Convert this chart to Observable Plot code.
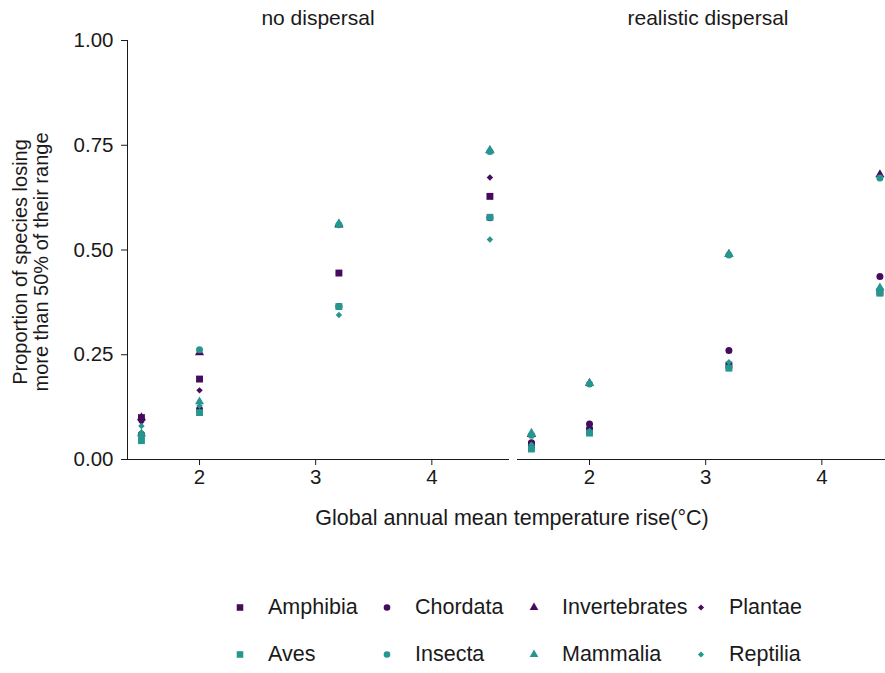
<!DOCTYPE html>
<html>
<head>
<meta charset="utf-8">
<script src="https://cdn.jsdelivr.net/npm/d3@7"></script>
<script src="https://cdn.jsdelivr.net/npm/@observablehq/plot@0.6"></script>
<style>
  html, body { margin: 0; padding: 0; background: #fff; overflow: hidden; }
  #chart { position: relative; width: 885px; height: 673px; overflow: hidden;
           font-family: "Liberation Sans", Arial, sans-serif; color: #1a1a1a; }
  .panel { position: absolute; top: 0; }
  .panel text { font-size: 20.5px !important; fill: #1a1a1a; }
  .panel g[aria-label="text"] text { font-size: 21px !important; }
  .ylab { position: absolute; left: 31px; top: 262px; width: 0; height: 0; }
  .ylab div { position: absolute; transform: translate(-50%, -50%) rotate(-90deg);
              white-space: nowrap; font-size: 20px; line-height: 21px; text-align: center; }
  .xlab { position: absolute; top: 505px; left: 0; width: 1024px; text-align: center;
          font-size: 21.5px; line-height: 26px; }
  .legend { position: absolute; font-size: 21.5px; line-height: 25px; }
  .item { position: absolute; display: flex; align-items: center; white-space: nowrap; }
  .item svg { margin-right: 21px; }
</style>
</head>
<body>
<div id="chart"></div>
<script>
// Warming levels (°C) and the taxa shown
const temps = [1.5, 2, 3.2, 4.5];
const taxa = ["Amphibia", "Aves", "Chordata", "Insecta", "Invertebrates", "Mammalia", "Plantae", "Reptilia"];
const scenarios = ["no dispersal", "realistic dispersal"];

// Proportion of species losing >50% of their range, no dispersal
const noDispAmphibia      = [0.100, 0.192, 0.445, 0.628];
const noDispAves          = [0.045, 0.112, 0.365, 0.578];
const noDispChordata      = [0.060, 0.120, 0.365, 0.577];
const noDispInsecta       = [0.055, 0.262, 0.560, 0.735];
const noDispInvertebrates = [0.100, 0.255, 0.560, 0.737];
const noDispMammalia      = [0.062, 0.138, 0.563, 0.738];
const noDispPlantae       = [0.090, 0.165, 0.445, 0.673];
const noDispReptilia      = [0.080, 0.128, 0.345, 0.525];

// Same, realistic dispersal
const realAmphibia      = [0.035, 0.070, 0.225, 0.400];
const realAves          = [0.025, 0.063, 0.218, 0.397];
const realChordata      = [0.040, 0.085, 0.260, 0.437];
const realInsecta       = [0.058, 0.180, 0.488, 0.672];
const realInvertebrates = [0.060, 0.182, 0.490, 0.680];
const realMammalia      = [0.063, 0.182, 0.490, 0.410];
const realPlantae       = [0.030, 0.068, 0.228, 0.402];
const realReptilia      = [0.035, 0.068, 0.232, 0.405];

const xTicks = [2, 3, 4];
const yTicks = [0, 0.25, 0.5, 0.75, 1];

const series = {
  "no dispersal": {
    Amphibia: noDispAmphibia, Aves: noDispAves, Chordata: noDispChordata, Insecta: noDispInsecta,
    Invertebrates: noDispInvertebrates, Mammalia: noDispMammalia, Plantae: noDispPlantae, Reptilia: noDispReptilia
  },
  "realistic dispersal": {
    Amphibia: realAmphibia, Aves: realAves, Chordata: realChordata, Insecta: realInsecta,
    Invertebrates: realInvertebrates, Mammalia: realMammalia, Plantae: realPlantae, Reptilia: realReptilia
  }
};

// Styling per taxon
const purple = "#470b5d", teal = "#26968f";
const colorOf = {Amphibia: purple, Chordata: purple, Invertebrates: purple, Plantae: purple,
                 Aves: teal, Insecta: teal, Mammalia: teal, Reptilia: teal};
const shapeOf = {Amphibia: "square", Aves: "square", Chordata: "circle", Insecta: "circle",
                 Invertebrates: "triangle", Mammalia: "triangle", Plantae: "diamond2", Reptilia: "diamond2"};
const sizeOf = {square: 3.9, circle: 3.5, triangle: 3.4, diamond2: 2.9};
const drawOrder = ["Plantae", "Chordata", "Amphibia", "Invertebrates", "Reptilia", "Aves", "Insecta", "Mammalia"];

function rows(scen) {
  const out = [];
  for (const t of drawOrder) series[scen][t].forEach((v, i) => out.push({taxon: t, temp: temps[i], value: v}));
  return out;
}

const xDomain = [1.38, 4.66];
const font = {fontSize: "20px", fontFamily: "'Liberation Sans', Arial, sans-serif", color: "#1a1a1a", background: "transparent", overflow: "visible"};

function panel(scen, first) {
  return Plot.plot({
    width: first ? 508 : 390,
    height: 490,
    marginLeft: first ? 127 : 9,
    marginRight: 0,
    marginTop: 40,
    marginBottom: 31,
    style: font,
    x: {domain: xDomain, ticks: xTicks, tickFormat: d3.format("d"), tickSize: 6, tickPadding: 4, line: true, label: null},
    y: first
      ? {domain: [0, 1], ticks: yTicks, tickFormat: d3.format(".2f"), tickSize: 6, tickPadding: 8, line: true, label: null}
      : {domain: [0, 1], axis: null},
    color: {domain: taxa, range: taxa.map(t => colorOf[t])},
    symbol: {domain: taxa, range: taxa.map(t => shapeOf[t])},
    r: {type: "identity"},
    marks: [
      Plot.dot(rows(scen), {
        x: "temp", y: "value", fill: "taxon", symbol: "taxon",
        r: d => sizeOf[shapeOf[d.taxon]], stroke: "none", sort: null
      }),
      Plot.text([scen], {frameAnchor: "top", text: d => d, dy: -22, lineAnchor: "middle"})
    ]
  });
}

const chart = document.getElementById("chart");
const left = panel(scenarios[0], true);
left.classList.add("panel"); left.style.left = "0px";
const right = panel(scenarios[1], false);
right.classList.add("panel"); right.style.left = "508px";
chart.append(left, right);

// Axis titles
const ylab = document.createElement("div");
ylab.className = "ylab";
ylab.innerHTML = "<div>Proportion of species losing<br>more than 50% of their range</div>";
chart.append(ylab);

const xlab = document.createElement("div");
xlab.className = "xlab";
xlab.textContent = "Global annual mean temperature rise(\u00B0C)";
chart.append(xlab);

// Legend: two rows of four keys
const legendCols = [240, 387, 534, 701];
const legendRows = [607, 654];
const legendLayout = [["Amphibia", "Chordata", "Invertebrates", "Plantae"], ["Aves", "Insecta", "Mammalia", "Reptilia"]];
const symbolFor = {square: d3.symbolSquare, circle: d3.symbolCircle, triangle: d3.symbolTriangle, diamond2: d3.symbolDiamond2};
legendLayout.forEach((row, ri) => row.forEach((t, ci) => {
  const item = document.createElement("div");
  item.className = "item legend";
  item.style.left = (legendCols[ci] - 7) + "px";
  item.style.top = (legendRows[ri] - 12.5) + "px";
  const r = sizeOf[shapeOf[t]] * 0.95;
  const path = d3.symbol(symbolFor[shapeOf[t]], Math.PI * r * r)();
  item.innerHTML = `<svg width="14" height="25" viewBox="-7 -12.5 14 25"><path d="${path}" fill="${colorOf[t]}"/></svg><span>${t}</span>`;
  chart.append(item);
}));
</script>
</body>
</html>
